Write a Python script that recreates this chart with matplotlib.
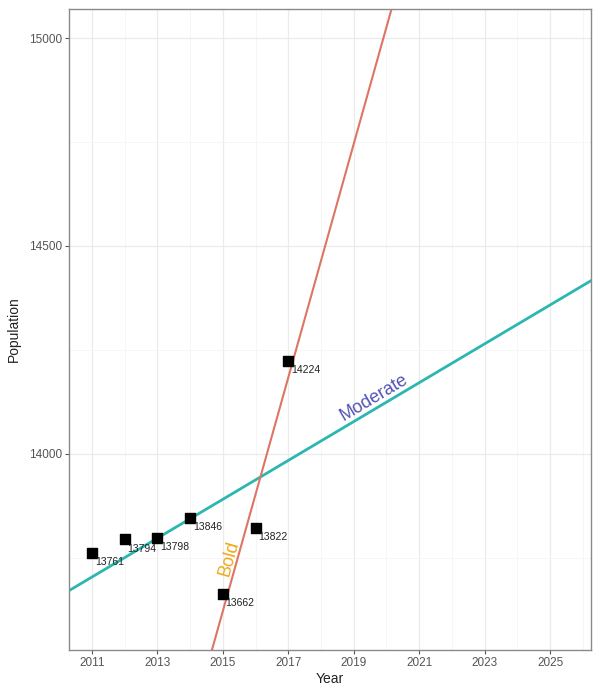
import numpy as np
import matplotlib.pyplot as plt
from matplotlib.ticker import MultipleLocator

plt.rcParams['font.family'] = ['Liberation Sans', 'DejaVu Sans']

# data
years = [2011, 2012, 2013, 2014, 2015, 2016, 2017]
population = [13761, 13794, 13798, 13846, 13662, 13822, 14224]

# fitted trends: moderate uses every year, bold only the last three
moderate_fit = np.polyfit(years, population, 1)
bold_fit = np.polyfit(years[-3:], population[-3:], 1)

fig = plt.figure(figsize=(5.94, 6.95), dpi=100)
ax = fig.add_axes([0.1162, 0.0647, 0.8788, 0.9223])

xlim = (2010.3, 2026.25)
ylim = (13528, 15070)
ax.set_xlim(xlim)
ax.set_ylim(ylim)

xs = np.array(xlim)
ax.plot(xs, np.polyval(moderate_fit, xs), color='#2bb7b0', lw=2.0, zorder=2)
ax.plot(xs, np.polyval(bold_fit, xs), color='#de7564', lw=1.5, zorder=2)

ax.scatter(years, population, marker='s', s=55, color='black', zorder=3)
for x, y in zip(years, population):
    ax.annotate(str(y), (x, y), xytext=(2, -3), textcoords='offset points',
                ha='left', va='top', fontsize=7.5, color='#222222')

# labels on the lines, rotated along them
def screen_angle(fit, x0):
    p = ax.transData.transform([(x0, np.polyval(fit, x0)), (x0 + 1, np.polyval(fit, x0 + 1))])
    d = p[1] - p[0]
    return np.degrees(np.arctan2(d[1], d[0]))

mx = 2018.75
ax.text(mx, np.polyval(moderate_fit, mx) + 4, 'Moderate', color='#5553b5', fontsize=13,
        rotation=screen_angle(moderate_fit, mx), rotation_mode='anchor', ha='left', va='bottom')
by = 13700
bx = (by - bold_fit[1]) / bold_fit[0]
ax.text(bx, by, 'Bold', color='#f0a81a', fontsize=13,
        rotation=screen_angle(bold_fit, bx), rotation_mode='anchor', ha='left', va='bottom')

# ggplot-like theme
ax.xaxis.set_major_locator(MultipleLocator(2, offset=1))
ax.xaxis.set_minor_locator(MultipleLocator(2))
ax.set_yticks([14000, 14500, 15000])
ax.set_yticks([13750, 14250, 14750], minor=True)
ax.grid(which='major', color='#ebebeb', lw=0.9, zorder=0)
ax.grid(which='minor', color='#f5f5f5', lw=0.6, zorder=0)
ax.set_axisbelow(True)
ax.tick_params(which='major', length=3, width=0.8, color='#555555', labelsize=8.5,
               labelcolor='#555555', pad=2)
ax.tick_params(which='minor', length=0)
for s in ax.spines.values():
    s.set_color('#8a8a8a')
    s.set_linewidth(1.0)

ax.set_xlabel('Year', fontsize=10, color='#222222', labelpad=2)
ax.set_ylabel('Population', fontsize=10, color='#222222', labelpad=6)

fig.savefig('out.png', dpi=100)
